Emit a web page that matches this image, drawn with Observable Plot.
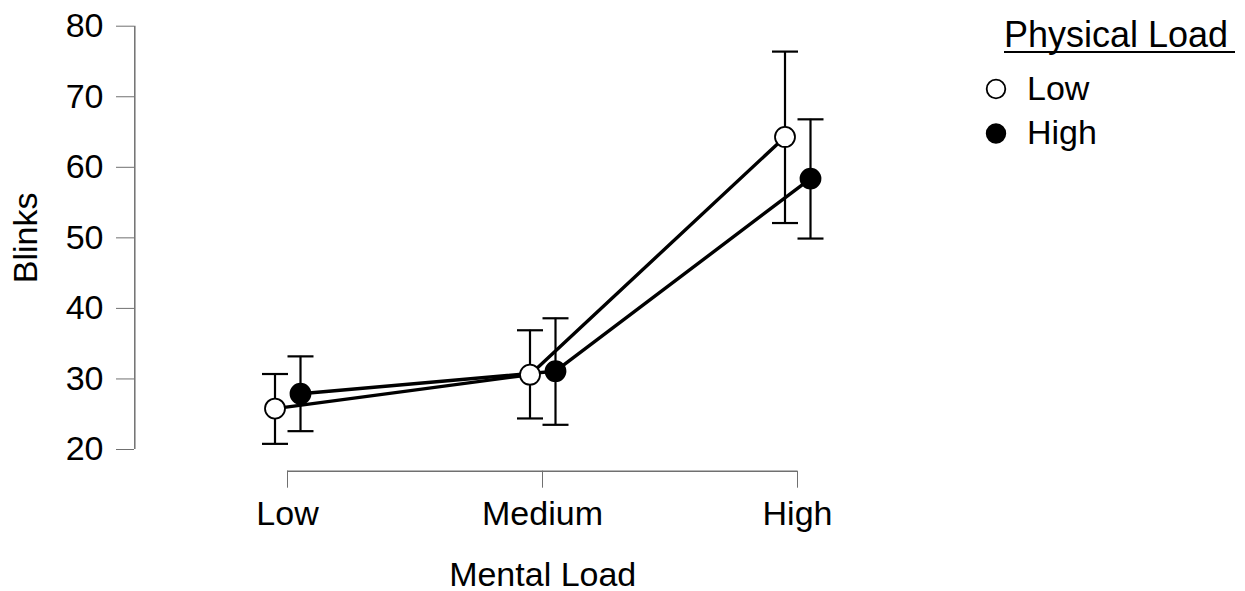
<!DOCTYPE html>
<html>
<head>
<meta charset="utf-8">
<script src="https://cdn.jsdelivr.net/npm/d3@7"></script>
<script src="https://cdn.jsdelivr.net/npm/@observablehq/plot@0.6"></script>
<style>
  html, body { margin: 0; padding: 0; background: #fff; }
  #chart { position: relative; width: 1245px; height: 591px; }
  svg { font-family: "Liberation Sans", Arial, sans-serif; }
</style>
</head>
<body>
<div id="chart"></div>
<script>
// ---- data ----
const mentalLoad = ["Low", "Medium", "High"];
const physicalLoad = ["Low", "High"];
const meanLowPhys  = [25.8, 30.6, 64.3];
const lowerLowPhys = [20.8, 24.4, 52.1];
const upperLowPhys = [30.7, 36.9, 76.4];
const meanHighPhys  = [27.9, 31.1, 58.4];
const lowerHighPhys = [22.6, 23.5, 49.9];
const upperHighPhys = [33.2, 38.6, 66.8];
const yTicks = [20, 30, 40, 50, 60, 70, 80];
const yDomain = [20, 80];

const series = [
  {name: physicalLoad[0], mean: meanLowPhys, lo: lowerLowPhys, hi: upperLowPhys, fill: "white", dx: -12.5},
  {name: physicalLoad[1], mean: meanHighPhys, lo: lowerHighPhys, hi: upperHighPhys, fill: "black", dx: 13}
];

const capSymbol = {
  draw(ctx, size) {
    const r = Math.sqrt(size / Math.PI);
    ctx.moveTo(-r, 0);
    ctx.lineTo(r, 0);
  }
};

const marks = [];
// axis lines (R-style detached axes)
marks.push(Plot.ruleY([{a: mentalLoad[0], b: mentalLoad[mentalLoad.length - 1], y: yDomain[0]}],
  {x1: "a", x2: "b", y: "y", dy: 21.7, stroke: "#707070", strokeWidth: 1.5}));
marks.push(Plot.ruleX([{x: mentalLoad[0], y1: yDomain[0], y2: yDomain[1]}],
  {x: "x", y1: "y1", y2: "y2", dx: -152.7, stroke: "#707070", strokeWidth: 1.5}));

for (const s of series) {
  const rows = mentalLoad.map((m, i) => ({m, v: s.mean[i], lo: s.lo[i], hi: s.hi[i]}));
  marks.push(Plot.line(rows, {x: "m", y: "v", dx: s.dx, stroke: "black", strokeWidth: 3.4}));
}
for (const s of series) {
  const rows = mentalLoad.map((m, i) => ({m, v: s.mean[i], lo: s.lo[i], hi: s.hi[i]}));
  marks.push(Plot.ruleX(rows, {x: "m", y1: "lo", y2: "hi", dx: s.dx, stroke: "black", strokeWidth: 2.2}));
  marks.push(Plot.dot(rows, {x: "m", y: "lo", dx: s.dx, r: 13, symbol: capSymbol, stroke: "black", strokeWidth: 2.2, fill: "none"}));
  marks.push(Plot.dot(rows, {x: "m", y: "hi", dx: s.dx, r: 13, symbol: capSymbol, stroke: "black", strokeWidth: 2.2, fill: "none"}));
}
for (const s of series) {
  const rows = mentalLoad.map((m, i) => ({m, v: s.mean[i]}));
  marks.push(Plot.dot(rows, {x: "m", y: "v", dx: s.dx, r: 10, fill: s.fill, stroke: "black", strokeWidth: 1.8}));
}

marks.push(Plot.axisY({
  ticks: yTicks, tickSize: 18, tickPadding: 13, stroke: "#707070", fill: "black",
  fontSize: 34, label: "Blinks", labelAnchor: "center", labelOffset: 122, labelArrow: false
}));
marks.push(Plot.axisX({
  anchor: "bottom", tickSize: 17, tickPadding: 13, dy: 21.7, stroke: "#707070", fill: "black",
  fontSize: 34, label: "Mental Load", labelAnchor: "center", labelOffset: 136, labelArrow: false
}));

const plot = Plot.plot({
  width: 1245,
  height: 591,
  marginLeft: 134,
  marginRight: 294.6,
  marginTop: 25.7,
  marginBottom: 142,
  x: {type: "point", domain: mentalLoad, padding: 0.598},
  y: {domain: yDomain},
  style: {fontFamily: "'Liberation Sans', Arial, sans-serif", fontSize: "34px", color: "black", background: "white"},
  marks
});
document.getElementById("chart").appendChild(plot);

// ---- legend ----
const svg = d3.select(plot);
const lg = svg.append("g")
  .attr("font-family", "'Liberation Sans', Arial, sans-serif")
  .attr("fill", "black")
  .attr("text-anchor", "start");
lg.append("text").attr("x", 1004).attr("y", 46.7).attr("font-size", 36).attr("text-anchor", "start").text("Physical Load");
lg.append("line").attr("x1", 1004).attr("x2", 1235).attr("y1", 52).attr("y2", 52).attr("stroke", "black").attr("stroke-width", 2.2);
const items = [
  {label: physicalLoad[0], fill: "white", cy: 89, ty: 100},
  {label: physicalLoad[1], fill: "black", cy: 133.5, ty: 143.5}
];
for (const it of items) {
  lg.append("circle").attr("cx", 996).attr("cy", it.cy).attr("r", 9.3).attr("fill", it.fill).attr("stroke", "black").attr("stroke-width", 1.8);
  lg.append("text").attr("x", 1027).attr("y", it.ty).attr("font-size", 34).attr("text-anchor", "start").text(it.label);
}
</script>
</body>
</html>
